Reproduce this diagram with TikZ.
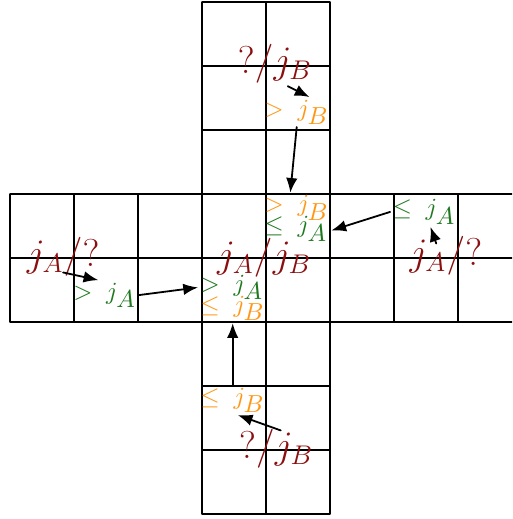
\documentclass[tikz,border=0pt]{standalone}
\usepackage{amsmath}
\usetikzlibrary{arrows.meta}
\definecolor{jRed}{RGB}{140,15,15}
\definecolor{jOrange}{RGB}{255,150,20}
\definecolor{jGreen}{RGB}{30,120,30}
\newcommand{\smallfont}{\fontsize{10.5}{12}\selectfont}
\newcommand{\stackfont}{\smallfont\baselineskip=9.4pt\lineskiplimit=-20pt\relax}
\newcommand{\jlab}[2]{$#1\; j_{\textstyle #2}$}
\begin{document}
\begin{tikzpicture}[line join=round, line cap=round, >={Latex[length=2.3mm, width=1.8mm]}, inner sep=1pt, font=\smallfont]
	\useasboundingbox (-4.156,-4.078) rectangle (3.844,4.031);
	\clip (-4.156,-4.078) rectangle (3.844,4.031);
	\draw[semithick] (-1,-4) grid (1,4) (-4,-1) grid (4,1);
	% big labels
	\foreach \n/\p/\t in {bigC/{-0.03,0}/{j_A/j_B}, bigT/{0.14,3.03}/{?/j_B}, bigB/{0.16,-2.98}/{?/j_B}, bigL/{-3.17,0.02}/{j_A/?}, bigR/{2.81,0.03}/{j_A/?}}
	\node[text=jRed, font=\LARGE] (\n) at (\p) {$\t$};
	% small labels
	\foreach \n/\p/\c/\r/\s in {gtT/{0.48,2.28}/jOrange/>/B, gtL/{-2.52,-0.58}/jGreen/>/A, leR/{2.47,0.72}/jGreen/\leq/A, leB/{-0.52,-2.22}/jOrange/\leq/B}
	\node[text=\c] (\n) at (\p) {\jlab{\r}{\s}};
	% stacked labels in the middle cells
	\node[align=left, font=\stackfont] (pairT) at (0.48,0.62) {\textcolor{jOrange}{\jlab{>}{B}}\\\textcolor{jGreen}{\jlab{\leq}{A}}};
	\node[align=left, font=\stackfont] (pairL) at (-0.52,-0.62) {\textcolor{jGreen}{\jlab{>}{A}}\\\textcolor{jOrange}{\jlab{\leq}{B}}};
	\draw[->, thick] ([xshift=2mm]bigT.south) -- ([xshift=2mm]gtT.north);
	\draw[->, thick] (gtT.south) -- ([xshift=-1mm]pairT.north);
	\draw[->, thick] ([xshift=-1.5mm, yshift=-1.5mm]bigR.north) -- ([xshift=1mm]leR.south);
	\draw[->, thick] (leR.west) -- ([yshift=-1.9mm]pairT.east);
	\draw[->, thick] ([yshift=1mm]bigL.south) -- ([xshift=-1mm]gtL.north);
	\draw[->, thick] (gtL.east) -- ([yshift=1.6mm]pairL.west);
	\draw[->, thick] ([xshift=0.7mm, yshift=-0.6mm]bigB.north) -- ([xshift=0.8mm]leB.south);
	\draw[->, thick] (leB.north) -- (pairL.south);
\end{tikzpicture}
\end{document}
